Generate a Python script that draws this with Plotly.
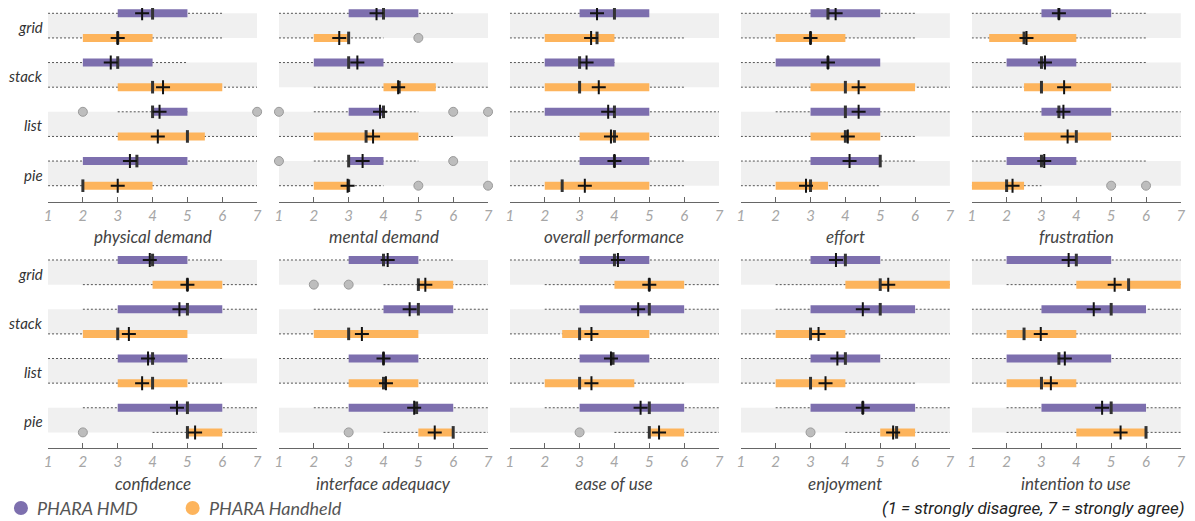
import plotly.graph_objects as go

# page body has an 8px margin, so the figure is drawn offset by 8px
OFF = 8
W, H = 1195 - OFF, 521 - OFF

METRICS = ["physical demand", "mental demand", "overall performance", "effort", "frustration",
           "confidence", "interface adequacy", "ease of use", "enjoyment", "intention to use"]
CATEGORIES = ["grid", "stack", "list", "pie"]
TICKS = [1, 2, 3, 4, 5, 6, 7]
GROUPS = ["PHARA HMD", "PHARA Handheld"]

# per metric, per category (grid, stack, list, pie)
HMD_LO = [[1, 1, 3, 1], [1, 1, 2, 2], [1, 1, 1, 1], [1, 1, 2, 1], [1, 1, 1, 1],
          [1, 2, 1, 2], [1, 2, 1, 2], [1, 2, 1, 2], [1, 2, 1, 2], [1, 1, 1, 2]]
HMD_Q1 = [[3, 2, 4, 2], [3, 2, 3, 3], [3, 2, 2, 3], [3, 2, 3, 3], [3, 2, 3, 2],
          [3, 3, 3, 3], [3, 4, 3, 3], [3, 3, 3, 3], [3, 3, 3, 3], [2, 3, 2, 3]]
HMD_MED = [[4, 3, 4, 3.55], [4, 3, 4, 3], [4, 3, 4, 4], [3.5, 3.5, 4, 5], [3.5, 3, 3.5, 3],
           [4, 5, 4, 5], [4, 5, 4, 4.95], [4, 5, 3.96, 5], [4, 5, 4, 4.5], [4, 5, 3.5, 5]]
HMD_Q3 = [[5, 4, 5, 5], [5, 4, 4, 4], [5, 4, 5, 5], [5, 5, 5, 5], [5, 4, 5, 4],
          [5, 6, 5, 6], [5, 6, 5, 6], [5, 6, 5, 6], [5, 6, 5, 6], [5, 6, 5, 6]]
HMD_HI = [[6, 5, 5, 7], [6, 6, 5, 5], [5, 4, 7, 6], [6, 5, 7, 6], [6, 6, 7, 6],
          [6, 7, 6, 7], [6, 7, 7, 7], [7, 7, 7, 7], [7, 7, 7, 7], [7, 7, 7, 7]]
HMD_MEAN = [[3.7, 2.8, 4.2, 3.35], [3.8, 3.25, 3.9, 3.4], [3.5, 3.2, 3.82, 4.0],
            [3.72, 3.5, 4.38, 4.12], [3.5, 3.1, 3.63, 3.08], [3.92, 4.77, 3.87, 4.7],
            [4.12, 4.75, 4.0, 4.88], [4.1, 4.68, 3.9, 4.75], [3.73, 4.5, 3.77, 4.5],
            [3.78, 4.5, 3.67, 4.74]]
HMD_OUT = [[[], [], [2, 7], []], [[], [], [1, 6, 7], [1, 6]], [[], [], [], []],
           [[], [], [], []], [[], [], [], []], [[], [], [], []], [[], [], [], []],
           [[], [], [], []], [[], [], [], []], [[], [], [], []]]

HH_LO = [[1, 1, 1, 1], [1, 2, 1, 1], [1, 1, 1, 1], [1, 1, 1, 1], [1, 1, 1, 1],
         [2, 1, 1, 4], [4, 1, 1, 4], [2, 1, 1, 4], [2, 1, 1, 4], [2, 1, 1, 2]]
HH_Q1 = [[2, 3, 3, 2], [2, 4, 2, 2], [2, 2, 3, 2], [2, 3, 3, 2], [1.5, 2.5, 2.5, 1],
         [4, 2, 3, 5], [5, 2, 3, 5], [4, 2.5, 2, 5], [4, 2, 2, 5], [4, 2, 2, 4]]
HH_MED = [[3, 4, 5, 2], [3, 4.45, 3.5, 3], [3.5, 3, 4, 2.5], [3, 4, 4, 3], [2.5, 3, 4, 2],
          [5, 3, 4, 5], [5, 3, 4, 6], [5, 3, 3, 5], [5, 3, 3, 5.47], [5.5, 2.5, 3, 6]]
HH_Q3 = [[4, 6, 5.5, 4], [3, 5.5, 5, 3], [4, 5, 5, 5], [4, 6, 5, 3.5], [4, 5, 5, 2.5],
         [6, 5, 5, 6], [6, 5, 5, 6], [6, 5, 4.57, 6], [7, 4, 4, 6], [7, 4, 4, 6]]
HH_HI = [[6, 7, 7, 7], [4, 7, 6, 4], [6, 6, 7, 6], [6, 7, 6, 5], [6, 7, 7, 3],
         [7, 5, 6, 7], [7, 5, 7, 7], [7, 7, 6, 7], [7, 7, 6, 7], [7, 7, 7, 7]]
HH_MEAN = [[3.0, 4.3, 4.15, 3.0], [2.73, 4.42, 3.7, 2.97], [3.33, 3.55, 3.9, 3.15],
           [3.0, 4.38, 4.07, 2.87], [2.57, 3.65, 3.75, 2.17], [5.0, 3.32, 3.7, 5.22],
           [5.2, 3.38, 4.07, 5.47], [5.0, 3.34, 3.34, 5.28], [5.23, 3.23, 3.43, 5.37],
           [5.1, 2.98, 3.27, 5.27]]
HH_OUT = [[[], [], [], []], [[5], [], [], [5, 7]], [[], [], [], []], [[], [], [], []],
          [[], [], [], [5, 6]], [[], [], [], [2]], [[2, 3], [], [], [3]],
          [[], [], [], [3]], [[], [], [], [3]], [[], [], [], []]]

COLORS = ["#7d6fae", "#fdb45c"]
FONT = "Lato"


def px(x):
    return (x - OFF) / W


def py(y):
    return 1 - (y - OFF) / H


fig = go.Figure()

PX_X0, PX_PW, PX_STEP = 44.3, 210.7, 232.7
ROW_TOP = [0.0, 246.7]
PLOT_H = 201.7
YRANGE = [7.65, -0.54]

stats = [
    (HMD_LO, HMD_Q1, HMD_MED, HMD_Q3, HMD_HI, HMD_MEAN, HMD_OUT),
    (HH_LO, HH_Q1, HH_MED, HH_Q3, HH_HI, HH_MEAN, HH_OUT),
]

annotations = []
shapes = []

for p, metric in enumerate(METRICS):
    r, c = divmod(p, 5)
    n = p + 1
    xa = "x" if n == 1 else f"x{n}"
    ya = "y" if n == 1 else f"y{n}"
    x0 = PX_X0 + c * PX_STEP
    x1 = x0 + PX_PW
    yt = ROW_TOP[r]
    yb = yt + PLOT_H
    # top of first row would lie above the page; clip the domain and shrink range
    yt_eff = max(yt, OFF)
    rng_top = YRANGE[1] + (yt_eff - yt) / (PLOT_H / (YRANGE[0] - YRANGE[1]))
    fig.layout[f"xaxis{'' if n == 1 else n}"] = dict(
        domain=[px(x0), px(x1)], range=[1, 7], anchor=ya,
        tickvals=TICKS, ticktext=[str(t) for t in TICKS],
        showline=True, linecolor="#666", linewidth=1,
        ticks="inside", ticklen=5, tickcolor="#666", tickwidth=1,
        showgrid=False, zeroline=False, fixedrange=True,
        tickfont=dict(family=FONT, size=15, color="#a6a6a6", style="italic"),
    )
    fig.layout[f"yaxis{'' if n == 1 else n}"] = dict(
        domain=[py(yb), py(yt_eff)], range=[YRANGE[0], rng_top], anchor=xa,
        visible=False, fixedrange=True,
    )
    # grey bands
    for i in range(len(CATEGORIES)):
        shapes.append(dict(type="rect", xref=xa, yref=ya, x0=TICKS[0], x1=TICKS[-1],
                           y0=2 * i, y1=2 * i + 1, fillcolor="#f0f0f0",
                           line=dict(width=0), layer="below"))
    # metric title
    annotations.append(dict(text=metric, xref="paper", yref="paper",
                            x=px((x0 + x1) / 2), y=py(yb + 35),
                            xanchor="center", yanchor="middle", showarrow=False,
                            font=dict(family=FONT, size=17, color="#444", style="italic")))
    if c == 0:
        for i, cat in enumerate(CATEGORIES):
            annotations.append(dict(text=cat, xref="paper", yref=ya,
                                    x=px(41), y=2 * i + 0.55, xanchor="right",
                                    yanchor="middle", showarrow=False,
                                    font=dict(family=FONT, size=15, color="#333",
                                              style="italic")))
    for g, (LO, Q1, MED, Q3, HI, MEAN, OUT) in enumerate(stats):
        wx, wy, bx, by, ox, oy = [], [], [], [], [], []
        my = []
        for i in range(len(CATEGORIES)):
            k = 2 * i + g
            wx += [LO[p][i], HI[p][i], None]
            wy += [k, k, None]
            bx += [Q1[p][i], Q3[p][i], None]
            by += [k, k, None]
            my.append(k)
            for o in OUT[p][i]:
                ox.append(o)
                oy.append(k)
        common = dict(xaxis=xa, yaxis=ya, showlegend=False, hoverinfo="skip",
                      cliponaxis=False)
        fig.add_trace(go.Scatter(x=wx, y=wy, mode="lines",
                                 line=dict(color="#555", width=1, dash="2px,2px"), **common))
        fig.add_trace(go.Scatter(x=bx, y=by, mode="lines",
                                 line=dict(color=COLORS[g], width=8), **common))
        if ox:
            fig.add_trace(go.Scatter(x=ox, y=oy, mode="markers",
                                     marker=dict(symbol="circle", size=9, color="#bdbdbd",
                                                 line=dict(color="#9a9a9a", width=1)),
                                     **common))
        fig.add_trace(go.Scatter(x=MED[p], y=my, mode="markers",
                                 marker=dict(symbol="line-ns", size=9,
                                             line=dict(color="#333", width=3)), **common))
        fig.add_trace(go.Scatter(x=MEAN[p], y=my, mode="markers",
                                 marker=dict(symbol="cross-thin", size=10,
                                             line=dict(color="#111", width=2)), **common))

# legend
LEG_Y = py(508)
for g, (cx, tx) in enumerate([(17, 31), (190, 204)]):
    shapes.append(dict(type="circle", xref="paper", yref="paper",
                       xsizemode="pixel", ysizemode="pixel", xanchor=px(cx), yanchor=LEG_Y,
                       x0=-7, x1=7, y0=-7, y1=7, fillcolor=COLORS[g], line=dict(width=0)))
    annotations.append(dict(text=GROUPS[g], xref="paper", yref="paper", x=px(tx), y=LEG_Y,
                            xanchor="left", yanchor="middle", showarrow=False,
                            font=dict(family=FONT, size=18, color="#555", style="italic")))
annotations.append(dict(text="(1 = strongly disagree, 7 = strongly agree)", xref="paper",
                        yref="paper", x=px(1191), y=LEG_Y, xanchor="right", yanchor="middle",
                        showarrow=False,
                        font=dict(family="Roboto", size=17, color="#222", style="italic")))

fig.update_layout(width=W, height=H, margin=dict(l=0, r=0, t=0, b=0),
                  paper_bgcolor="white", plot_bgcolor="rgba(0,0,0,0)",
                  annotations=annotations, shapes=shapes, showlegend=False)

fig.write_html("out.html")
